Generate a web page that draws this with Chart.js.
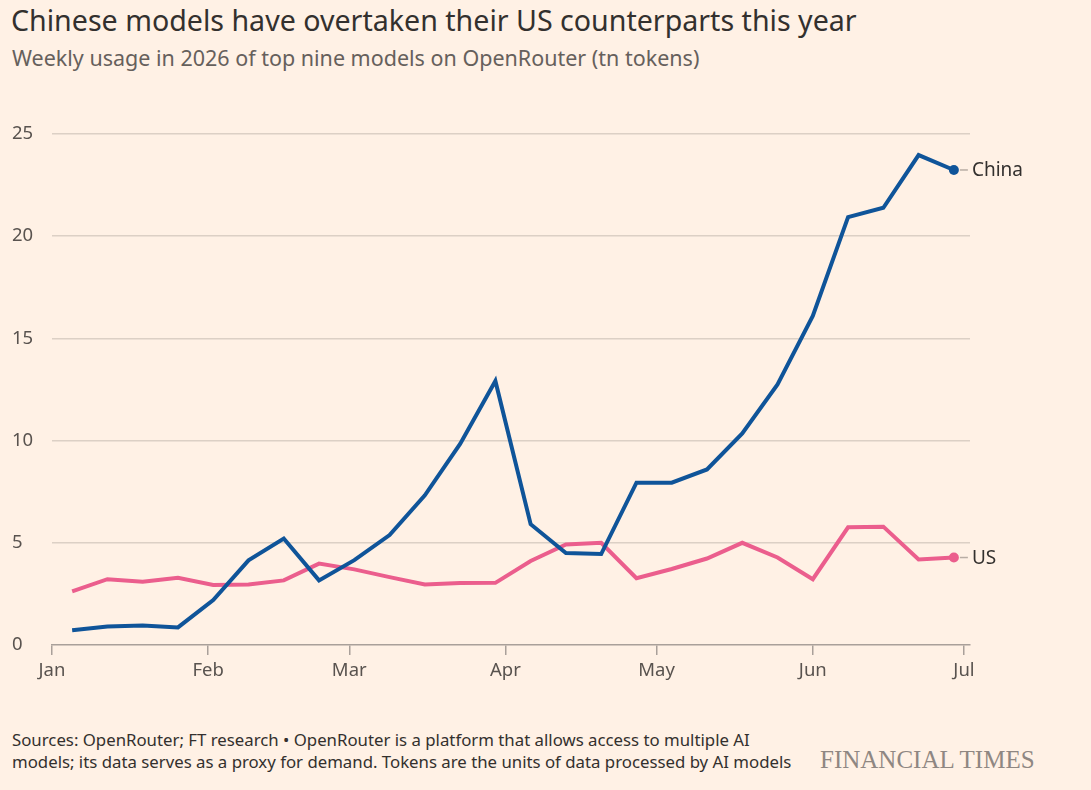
<!DOCTYPE html>
<html lang="en">
<head>
    <meta charset="UTF-8">
    <title>Chinese models have overtaken their US counterparts this year</title>
    <script src="https://cdn.jsdelivr.net/npm/chart.js"></script>
    <style>
        body { margin: 0; background: #FFF1E5; width: 1091px; height: 790px; overflow: hidden; position: relative; font-family: "Noto Sans", sans-serif; }
        h1 { position: absolute; left: 11px; top: 0px; margin: 0; font-size: 28.6px; font-weight: 400; color: #33302e; white-space: nowrap; }
        .sub { position: absolute; left: 12px; top: 43px; margin: 0; font-size: 21.5px; color: #66605c; white-space: nowrap; }
        #wrap { position: absolute; left: 0; top: 0; width: 1091px; height: 700px; }
        .note { position: absolute; left: 12px; top: 729px; font-size: 16.8px; line-height: 22px; color: #33302e; white-space: nowrap; }
        .brand { position: absolute; left: 820px; top: 746px; font-family: "Liberation Serif", serif; font-size: 25px; color: #8f8782; white-space: nowrap; }
    </style>
</head>
<body>
    <h1>Chinese models have overtaken their US counterparts this year</h1>
    <p class="sub">Weekly usage in 2026 of top nine models on OpenRouter (tn tokens)</p>

    <div id="wrap"><canvas id="usageChart"></canvas></div>

    <div class="note">Sources: OpenRouter; FT research • OpenRouter is a platform that allows access to multiple AI<br>models; its data serves as a proxy for demand. Tokens are the units of data processed by AI models</div>
    <div class="brand">FINANCIAL TIMES</div>

    <script>
        // week starting dates (Mondays)
        const weeks = [
            '2026-01-05', '2026-01-12', '2026-01-19', '2026-01-26',
            '2026-02-02', '2026-02-09', '2026-02-16', '2026-02-23',
            '2026-03-02', '2026-03-09', '2026-03-16', '2026-03-23', '2026-03-30',
            '2026-04-06', '2026-04-13', '2026-04-20', '2026-04-27',
            '2026-05-04', '2026-05-11', '2026-05-18', '2026-05-25',
            '2026-06-01', '2026-06-08', '2026-06-15', '2026-06-22', '2026-06-29'
        ];
        const china = [0.72, 0.90, 0.95, 0.86, 2.2, 4.14, 5.21, 3.16, 4.15, 5.38, 7.32, 9.84, 12.92,
                       5.91, 4.5, 4.45, 7.94, 7.94, 8.59, 10.35, 12.75, 16.1, 20.93, 21.39, 23.97, 23.24];
        const us = [2.62, 3.22, 3.09, 3.29, 2.94, 2.96, 3.16, 3.98, 3.70, 3.32, 2.96, 3.03, 3.04,
                    4.11, 4.92, 5.0, 3.27, 3.72, 4.23, 5.0, 4.28, 3.22, 5.76, 5.79, 4.18, 4.28];
        const tickDates = ['2026-01-01', '2026-02-01', '2026-03-01', '2026-04-01', '2026-05-01', '2026-06-01', '2026-07-01'];
        const tickLabels = ['Jan', 'Feb', 'Mar', 'Apr', 'May', 'Jun', 'Jul'];
        const seriesNames = ['China', 'US'];

        // days since Jan 1
        const start = Date.UTC(2026, 0, 1);
        function dayOf(s) {
            const p = s.split('-');
            return (Date.UTC(+p[0], +p[1] - 1, +p[2]) - start) / 86400000;
        }
        const tickDays = tickDates.map(dayOf);

        const endLabels = {
            id: 'endLabels',
            afterDatasetsDraw(chart) {
                const ctx = chart.ctx;
                chart.data.datasets.forEach((ds, i) => {
                    const meta = chart.getDatasetMeta(i);
                    const pt = meta.data[meta.data.length - 1];
                    ctx.save();
                    ctx.strokeStyle = '#b8ada4';
                    ctx.lineWidth = 1.5;
                    ctx.beginPath();
                    ctx.moveTo(pt.x + 6, pt.y);
                    ctx.lineTo(pt.x + 14, pt.y);
                    ctx.stroke();
                    ctx.fillStyle = '#33302e';
                    ctx.font = '19px "Noto Sans"';
                    ctx.textBaseline = 'middle';
                    ctx.fillText(ds.label, pt.x + 18, pt.y + 1);
                    ctx.restore();
                });
            }
        };

        function series(vals, i, color) {
            return {
                label: seriesNames[i],
                data: vals.map((v, j) => ({ x: dayOf(weeks[j]), y: v })),
                borderColor: color,
                backgroundColor: color,
                borderWidth: 4,
                pointRadius: ctx => ctx.dataIndex === vals.length - 1 ? 5 : 0,
                pointBorderWidth: 0,
                tension: 0
            };
        }

        new Chart(document.getElementById('usageChart'), {
            type: 'line',
            data: {
                datasets: [
                    series(china, 0, '#0f5499'),
                    series(us, 1, '#eb5e8d')
                ]
            },
            options: {
                responsive: true,
                maintainAspectRatio: false,
                animation: false,
                layout: { padding: { left: 12, right: 121, top: 134, bottom: 10 } },
                plugins: { legend: { display: false }, tooltip: { enabled: false } },
                scales: {
                    x: {
                        type: 'linear',
                        min: 0,
                        max: 182.2,
                        afterBuildTicks: scale => { scale.ticks = tickDays.map(v => ({ value: v })); },
                        afterFit: scale => { scale.height = 45; },
                        grid: { drawOnChartArea: false, drawTicks: true, tickLength: 10, color: '#a9a09a', lineWidth: 1.5 },
                        border: { display: true, color: '#a9a09a', width: 1.5 },
                        ticks: {
                            autoSkip: false, maxRotation: 0, padding: 5,
                            color: '#59534f', font: { family: 'Noto Sans', size: 18.5 },
                            callback: (v, i) => tickLabels[i]
                        }
                    },
                    y: {
                        min: 0,
                        max: 25,
                        afterFit: scale => { scale.width = 40; },
                        grid: { drawTicks: false, color: c => c.tick.value === 0 ? 'rgba(0,0,0,0)' : '#dcd0c5', lineWidth: 1.5 },
                        border: { display: false },
                        ticks: {
                            stepSize: 5, crossAlign: 'far', padding: 0,
                            color: '#59534f', font: { family: 'Noto Sans', size: 18.5 }
                        }
                    }
                }
            },
            plugins: [endLabels]
        });
    </script>
</body>
</html>
